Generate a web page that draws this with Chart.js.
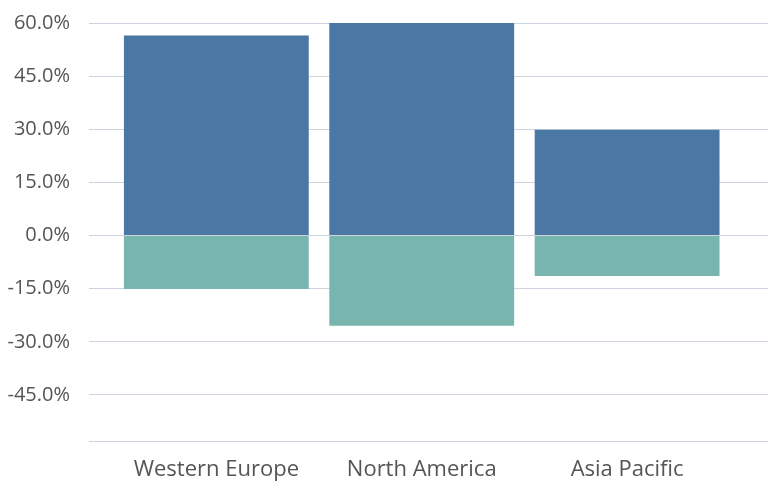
<!DOCTYPE html>
<html><head><meta charset="utf-8">
<script src="https://cdn.jsdelivr.net/npm/chart.js@4/dist/chart.umd.min.js"></script>
<style>html,body{margin:0;padding:0;background:#fff}#wrap{width:768px;height:494px}</style>
</head><body><div id="wrap"><canvas id="c"></canvas></div>
<script>
const categories = ["Western Europe", "North America", "Asia Pacific"];
const positiveValues = [56.5, 60.0, 29.9];
const negativeValues = [-15.1, -25.5, -11.4];
const yTicks = [-45, -30, -15, 0, 15, 30, 45, 60];

const gridColor = "#cdd4e0";
const textColor = "#555555";
const toPoints = arr => arr.map((v, i) => ({x: i, y: v}));

new Chart(document.getElementById("c"), {
  type: "bar",
  data: {
    datasets: [
      {label: "Positive", data: toPoints(positiveValues), backgroundColor: "#4b77a4", barPercentage: 0.9, categoryPercentage: 1},
      {label: "Negative", data: toPoints(negativeValues), backgroundColor: "#78b5af", barPercentage: 0.9, categoryPercentage: 1}
    ]
  },
  options: {
    responsive: true,
    maintainAspectRatio: false,
    animation: false,
    layout: {padding: {top: 23, right: 0, bottom: 0, left: 0}},
    plugins: {legend: {display: false}, tooltip: {enabled: false}},
    scales: {
      x: {
        type: "linear",
        stacked: true,
        offset: false,
        min: -0.62,
        max: 2.686,
        grid: {display: false, offset: false},
        border: {display: true, color: gridColor, width: 1},
        afterBuildTicks: s => { s.ticks = categories.map((c, i) => ({value: i})); },
        afterFit: s => { s.height = 53; s.paddingLeft = 0; s.paddingRight = 0; },
        ticks: {
          callback: v => categories[v],
          color: textColor,
          font: {family: "'Open Sans', sans-serif", size: 22},
          padding: 8,
          maxRotation: 0,
          autoSkip: false
        }
      },
      y: {
        stacked: true,
        min: -58,
        max: 60,
        afterBuildTicks: s => { s.ticks = yTicks.map(v => ({value: v})); },
        afterFit: s => { s.width = 89; s.paddingTop = 0; s.paddingBottom = 0; },
        grid: {color: gridColor, drawTicks: false, lineWidth: 1},
        border: {display: false},
        ticks: {
          callback: v => v.toFixed(1) + "%",
          color: textColor,
          font: {family: "'Open Sans', sans-serif", size: 20},
          padding: 19
        }
      }
    }
  }
});
</script>
</body></html>
